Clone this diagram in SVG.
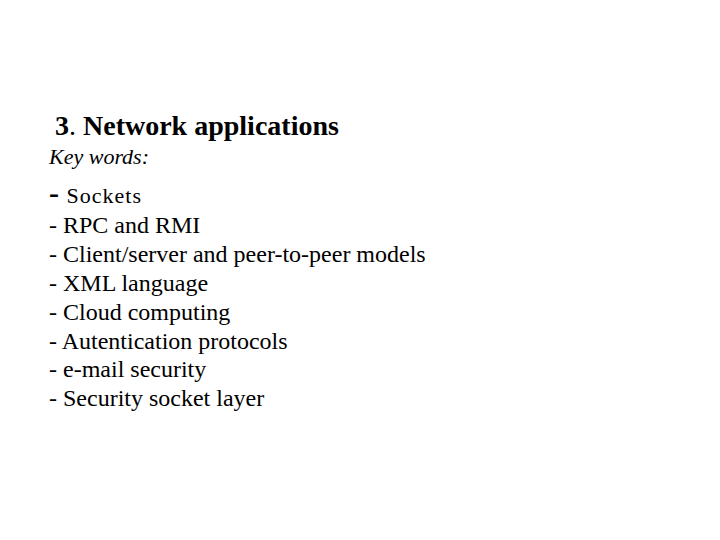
<svg xmlns="http://www.w3.org/2000/svg" width="720" height="540" viewBox="0 0 720 540">
<style>
text{font-family:"Liberation Serif","Times New Roman",serif;fill:#000}
.l{font-size:24px}
</style>
<rect width="720" height="540" fill="#fff"/>
<g id="title"><text x="55" y="135" font-size="28" font-weight="bold">3<tspan font-weight="normal">.</tspan> Network applications</text></g>
<g id="keywords"><text x="49" y="164" font-size="22" font-style="italic">Key words:</text></g>
<g id="items">
<text x="49" y="203" font-size="22" letter-spacing="1"><tspan font-size="30" font-weight="bold">-</tspan> Sockets</text>
<text class="l" x="49" y="262" dy="-29">- RPC and RMI</text>
<text class="l" x="49" y="262">- Client/server and peer-to-peer models</text>
<text class="l" x="49" y="291">- XML language</text>
<text class="l" x="49" y="320">- Cloud computing</text>
<text class="l" x="49" y="349">- Autentication protocols</text>
<text class="l" x="49" y="377">- e-mail security</text>
<text class="l" x="49" y="406">- Security socket layer</text>
</g>
</svg>
